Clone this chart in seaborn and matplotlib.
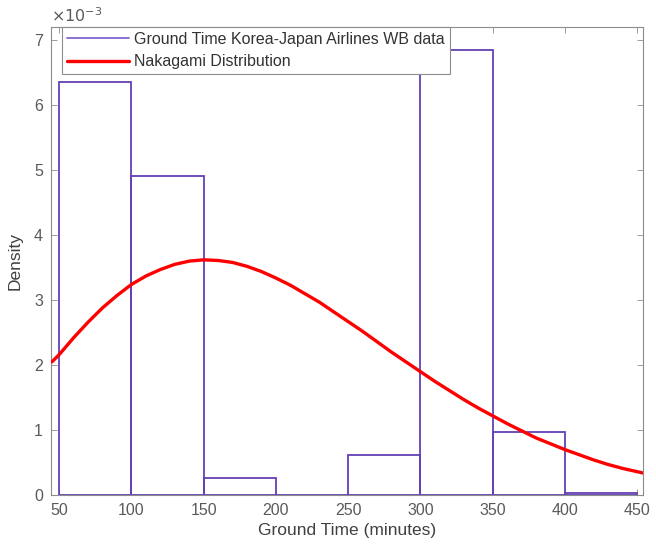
import numpy as np
import pandas as pd
import matplotlib
matplotlib.use("Agg")
import matplotlib.pyplot as plt
import seaborn as sns
from matplotlib.ticker import FuncFormatter
from matplotlib.lines import Line2D

# histogram bins (minutes) and density heights (x 1e-3)
bin_edges = [50, 100, 150, 200, 250, 300, 350, 400, 450]
bin_density = [6.35, 4.91, 0.26, 0.0, 0.61, 6.85, 0.97, 0.03]

# Nakagami fit curve (density x 1e-3)
curve_x = [45, 50, 60, 70, 80, 90, 100, 110, 120, 130, 140, 150, 160, 170, 180,
           190, 200, 210, 220, 230, 240, 250, 260, 270, 280, 290, 300, 310, 320,
           330, 340, 350, 360, 370, 380, 390, 400, 410, 420, 430, 440, 450, 454]
curve_y = [2.05, 2.16, 2.42, 2.66, 2.88, 3.07, 3.24, 3.37, 3.47, 3.55, 3.60, 3.62,
           3.61, 3.58, 3.52, 3.44, 3.34, 3.23, 3.10, 2.97, 2.82, 2.67, 2.52, 2.36,
           2.20, 2.05, 1.90, 1.75, 1.61, 1.47, 1.34, 1.22, 1.10, 0.99, 0.88, 0.79,
           0.70, 0.62, 0.54, 0.47, 0.41, 0.36, 0.34]

sns.set_style("white")
plt.rcParams['font.family'] = ['Liberation Sans', 'DejaVu Sans']

centers = [(a + b) / 2 for a, b in zip(bin_edges[:-1], bin_edges[1:])]
hist_df = pd.DataFrame({'time': centers, 'dens': np.array(bin_density) * 1e-3})
curve_df = pd.DataFrame({'time': curve_x, 'dens': np.array(curve_y) * 1e-3})

fig = plt.figure(figsize=(6.56, 5.55), dpi=100)
ax = fig.add_axes([0.078, 0.108, 0.902, 0.843])

bar_color = '#6441B4'
sns.histplot(data=hist_df, x='time', weights='dens', bins=bin_edges, stat='count',
             element='bars', fill=False, color=bar_color, linewidth=1.3, ax=ax)
sns.lineplot(data=curve_df, x='time', y='dens', color='#FF0000', linewidth=2.4,
             ax=ax, zorder=5)

ax.set_xlim(44.5, 454)
ax.set_ylim(0, 7.2e-3)
ax.set_xticks(range(50, 451, 50))
ax.set_yticks(np.arange(0, 8) * 1e-3)
ax.yaxis.set_major_formatter(FuncFormatter(lambda v, p: f"{v * 1e3:.0f}"))

grey = '#5a5a5a'
for s in ax.spines.values():
    s.set_color('#8c8c8c')
    s.set_linewidth(0.8)
ax.tick_params(direction='in', length=4, width=0.6, colors='#8c8c8c',
               labelcolor=grey, labelsize=11.5, top=True, right=True,
               left=True, bottom=True)
ax.tick_params(axis='x', pad=6)
ax.tick_params(axis='y', pad=6)
ax.set_xlabel('Ground Time (minutes)', fontsize=12.5, color='#404040', labelpad=3)
ax.set_ylabel('Density', fontsize=12.5, color='#404040', labelpad=8)
ax.text(0.0, 1.005, r'$\times10^{-3}$', transform=ax.transAxes, fontsize=11.5,
        color=grey, ha='left', va='bottom')

handles = [Line2D([], [], color='#8466D2', linewidth=1.3),
           Line2D([], [], color='#FF0000', linewidth=2.4)]
leg = ax.legend(handles, ['Ground Time Korea-Japan Airlines WB data', 'Nakagami Distribution'],
                loc='upper left', bbox_to_anchor=(0.018, 1.0), fontsize=11.5,
                frameon=True, fancybox=False, framealpha=1, borderpad=0.3,
                handlelength=3.9, handletextpad=0.35, labelspacing=0.45,
                borderaxespad=0)
leg.get_frame().set_edgecolor('#8c8c8c')
leg.get_frame().set_linewidth(0.8)
leg.set_zorder(10)
for t in leg.get_texts():
    t.set_color('#333333')

fig.savefig('out.png', dpi=100)
